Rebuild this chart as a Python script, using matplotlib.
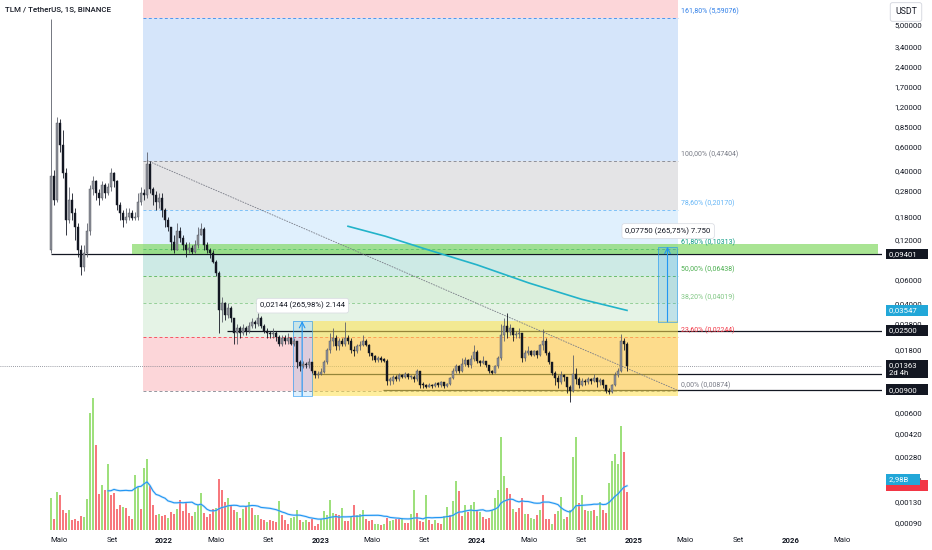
import matplotlib
matplotlib.use("Agg")
import matplotlib.pyplot as plt
import matplotlib.dates as mdates
import matplotlib.ticker as mticker
import matplotlib.transforms as mtransforms
from matplotlib.patches import Rectangle
import numpy as np
import pandas as pd

plt.rcParams['font.family'] = ['Roboto', 'DejaVu Sans']

# weekly TLM/USDT candles, first week starts 2021-04-12
week_start = "2021-04-12"
first_open = 0.10
closes = [
    0.36, 0.24, 0.90, 0.62, 0.38, 0.17, 0.24, 0.19, 0.15, 0.10,
    0.075, 0.095, 0.14, 0.29, 0.33, 0.27, 0.25, 0.31, 0.27, 0.30,
    0.38, 0.33, 0.22, 0.19, 0.17, 0.18, 0.19, 0.175, 0.18, 0.23,
    0.27, 0.26, 0.45, 0.29, 0.26, 0.23, 0.25, 0.20, 0.17, 0.15,
    0.115, 0.10, 0.14, 0.125, 0.11, 0.10, 0.105, 0.098, 0.11, 0.13,
    0.145, 0.11, 0.10, 0.095, 0.082, 0.068, 0.036, 0.040, 0.033, 0.037,
    0.031, 0.024, 0.026, 0.024, 0.026, 0.025, 0.027, 0.029, 0.028, 0.031,
    0.027, 0.025, 0.024, 0.0235, 0.024, 0.0225, 0.020, 0.022, 0.021, 0.022,
    0.020, 0.021, 0.0145, 0.0135, 0.014, 0.0138, 0.0145, 0.0125, 0.0115, 0.0118,
    0.0123, 0.0145, 0.018, 0.021, 0.022, 0.019, 0.021, 0.020, 0.022, 0.021,
    0.018, 0.0175, 0.019, 0.0195, 0.021, 0.0195, 0.017, 0.016, 0.015, 0.0155,
    0.015, 0.0148, 0.0105, 0.0105, 0.0112, 0.0108, 0.0115, 0.0113, 0.0118, 0.0112,
    0.0113, 0.0108, 0.0125, 0.0098, 0.0097, 0.0095, 0.0098, 0.0096, 0.010, 0.0098,
    0.0102, 0.0096, 0.0099, 0.011, 0.0125, 0.0135, 0.0125, 0.014, 0.015, 0.0138,
    0.0152, 0.0172, 0.0148, 0.0142, 0.0147, 0.0137, 0.0125, 0.012, 0.0135, 0.0155,
    0.023, 0.027, 0.0245, 0.026, 0.023, 0.0235, 0.024, 0.0155, 0.017, 0.0175,
    0.0165, 0.0175, 0.0165, 0.0195, 0.021, 0.017, 0.0145, 0.012, 0.011, 0.0102,
    0.0115, 0.0112, 0.0095, 0.0088, 0.0118, 0.0108, 0.0098, 0.0105, 0.0102, 0.0108,
    0.0105, 0.011, 0.0103, 0.0106, 0.0098, 0.0088, 0.0086, 0.0098, 0.0115, 0.0125,
    0.021, 0.020, 0.01363,
]
highs = [
    5.5, 0.40, 1.00, 0.98, 0.80, 0.42, 0.30, 0.27, 0.21, 0.16,
    0.11, 0.11, 0.16, 0.31, 0.36, 0.34, 0.29, 0.33, 0.32, 0.32,
    0.42, 0.39, 0.34, 0.23, 0.20, 0.21, 0.21, 0.20, 0.195, 0.27,
    0.30, 0.29, 0.55, 0.47, 0.30, 0.28, 0.27, 0.27, 0.21, 0.18,
    0.15, 0.13, 0.16, 0.15, 0.13, 0.115, 0.115, 0.11, 0.12, 0.15,
    0.16, 0.15, 0.115, 0.105, 0.10, 0.085, 0.07, 0.045, 0.041, 0.040,
    0.038, 0.031, 0.028, 0.027, 0.028, 0.027, 0.029, 0.031, 0.030, 0.034,
    0.032, 0.028, 0.026, 0.025, 0.026, 0.025, 0.023, 0.023, 0.023, 0.024,
    0.0225, 0.022, 0.021, 0.015, 0.0148, 0.0145, 0.0155, 0.0145, 0.0125, 0.0125,
    0.013, 0.015, 0.0185, 0.024, 0.026, 0.023, 0.022, 0.022, 0.029, 0.023,
    0.022, 0.019, 0.020, 0.021, 0.023, 0.0215, 0.020, 0.017, 0.0165, 0.016,
    0.016, 0.0155, 0.0152, 0.0112, 0.0115, 0.0115, 0.012, 0.0118, 0.0122, 0.012,
    0.0116, 0.0115, 0.0128, 0.0125, 0.0102, 0.0099, 0.0101, 0.0099, 0.0103, 0.0102,
    0.0105, 0.0102, 0.0101, 0.0113, 0.013, 0.014, 0.0137, 0.0155, 0.0157, 0.0152,
    0.0165, 0.0195, 0.018, 0.015, 0.016, 0.0148, 0.0138, 0.0127, 0.0138, 0.016,
    0.028, 0.031, 0.034, 0.028, 0.026, 0.025, 0.026, 0.024, 0.018, 0.019,
    0.018, 0.018, 0.018, 0.020, 0.0255, 0.022, 0.0175, 0.0145, 0.0125, 0.0115,
    0.0125, 0.0118, 0.0113, 0.0098, 0.0165, 0.013, 0.0112, 0.011, 0.0108, 0.0112,
    0.011, 0.0118, 0.0112, 0.011, 0.0108, 0.0098, 0.0092, 0.010, 0.0122, 0.013,
    0.0235, 0.022, 0.0205,
]
lows = [
    0.095, 0.22, 0.23, 0.55, 0.35, 0.13, 0.16, 0.17, 0.12, 0.09,
    0.065, 0.07, 0.09, 0.13, 0.26, 0.24, 0.22, 0.24, 0.25, 0.26,
    0.28, 0.30, 0.20, 0.17, 0.15, 0.16, 0.17, 0.17, 0.17, 0.17,
    0.22, 0.24, 0.25, 0.27, 0.22, 0.20, 0.21, 0.18, 0.15, 0.14,
    0.10, 0.095, 0.10, 0.115, 0.10, 0.09, 0.095, 0.094, 0.095, 0.105,
    0.13, 0.10, 0.095, 0.088, 0.08, 0.064, 0.024, 0.029, 0.030, 0.031,
    0.029, 0.020, 0.020, 0.022, 0.023, 0.023, 0.024, 0.026, 0.026, 0.027,
    0.026, 0.024, 0.022, 0.022, 0.022, 0.021, 0.019, 0.019, 0.020, 0.020,
    0.0195, 0.019, 0.013, 0.0125, 0.013, 0.013, 0.013, 0.012, 0.011, 0.011,
    0.0115, 0.012, 0.014, 0.017, 0.019, 0.018, 0.018, 0.019, 0.019, 0.020,
    0.017, 0.016, 0.017, 0.018, 0.019, 0.019, 0.016, 0.015, 0.0145, 0.0145,
    0.0145, 0.0145, 0.0098, 0.0098, 0.010, 0.0104, 0.0105, 0.011, 0.011, 0.0108,
    0.0109, 0.0103, 0.0105, 0.0092, 0.0093, 0.0092, 0.0094, 0.0093, 0.0095, 0.0095,
    0.0095, 0.0092, 0.0094, 0.0097, 0.0108, 0.012, 0.012, 0.0122, 0.0135, 0.0134,
    0.013, 0.0148, 0.0143, 0.0135, 0.014, 0.0133, 0.012, 0.0118, 0.012, 0.013,
    0.015, 0.021, 0.022, 0.023, 0.021, 0.022, 0.022, 0.0145, 0.0148, 0.0165,
    0.016, 0.016, 0.0155, 0.016, 0.018, 0.0163, 0.014, 0.0115, 0.0098, 0.0092,
    0.010, 0.0105, 0.0085, 0.0073, 0.0086, 0.010, 0.0092, 0.0096, 0.0098, 0.0099,
    0.010, 0.0102, 0.0095, 0.0098, 0.0092, 0.0085, 0.0083, 0.0085, 0.0096, 0.0112,
    0.0122, 0.018, 0.0125,
]
# weekly volume, billions of TLM
volumes = [
    2.18, 0.75, 2.58, 2.38, 1.36, 1.16, 1.36, 0.68, 0.75, 0.61,
    0.95, 0.88, 2.11, 7.96, 8.98, 5.78, 2.45, 3.06, 2.72, 4.49,
    2.38, 2.52, 1.43, 1.70, 1.56, 1.50, 0.95, 0.75, 3.74, 2.92,
    1.43, 4.22, 4.83, 2.99, 1.70, 1.02, 1.09, 0.95, 1.02, 0.82,
    1.22, 1.09, 1.43, 2.04, 1.29, 1.90, 1.16, 0.95, 1.22, 1.70,
    2.52, 1.16, 0.88, 1.09, 1.43, 1.50, 3.47, 2.72, 1.90, 2.18,
    1.70, 1.36, 1.22, 0.82, 1.43, 1.63, 1.90, 1.50, 1.02, 1.02,
    0.75, 0.68, 0.54, 0.68, 0.61, 0.54, 1.97, 1.02, 0.68, 0.41,
    0.82, 0.88, 1.36, 0.68, 0.54, 0.68, 0.54, 0.75, 0.27, 0.41,
    0.75, 1.29, 1.02, 2.04, 1.16, 1.09, 1.02, 1.50, 0.61, 0.61,
    0.88, 1.70, 1.02, 1.09, 1.36, 0.75, 0.61, 0.68, 0.41, 0.41,
    0.34, 0.41, 0.82, 0.61, 0.68, 0.75, 0.75, 0.82, 0.48, 0.48,
    1.09, 2.72, 1.16, 0.61, 0.54, 2.38, 0.68, 0.41, 0.68, 0.48,
    0.41, 0.95, 1.56, 1.02, 1.97, 3.33, 2.65, 0.95, 1.70, 1.22,
    1.70, 1.90, 1.36, 1.22, 0.88, 0.75, 0.82, 1.36, 2.18, 2.72,
    6.32, 3.67, 2.86, 2.45, 1.43, 1.22, 1.50, 2.18, 1.09, 1.09,
    0.82, 0.75, 1.02, 1.36, 2.38, 0.75, 0.75, 0.41, 1.09, 1.29,
    2.24, 0.75, 0.88, 1.36, 4.96, 6.32, 1.84, 2.38, 1.36, 1.29,
    1.29, 1.36, 0.95, 1.90, 1.36, 1.16, 3.20, 4.69, 5.17, 4.49,
    7.07, 5.30, 2.58,
]
volume_dirs = (
    "g r g r r r g r r r  r g g g g r r g r g  r r r r g r r r g g  "
    "r g g r r r g r r g  r r g r r r r r g g  g r r r r g r r r g  "
    "r r g r g r g r g g  r r g r r r g r r r  g g g r g g r r r r  "
    "g g g g g r r g r r  g r g g g r r r g g  r g r g g r r g r r  "
    "g g r r r g r r g r  r g g r g g r r g r  g g r g r r r g g g  "
    "g g r r g r r r g r  g g r g r r r g r g  g g r g g g r g r g  "
    "g r g g r r g g g g  g r r"
).split()

price_ticks = [5.0, 3.4, 2.4, 1.7, 1.2, 0.85, 0.6, 0.4, 0.28, 0.18, 0.12,
               0.06, 0.04, 0.028, 0.018, 0.006, 0.0042, 0.0028, 0.0019, 0.0013, 0.0009]
date_ticks = ["2021-05-01", "2021-09-01", "2022-01-01", "2022-05-01", "2022-09-01",
              "2023-01-01", "2023-05-01", "2023-09-01", "2024-01-01", "2024-05-01",
              "2024-09-01", "2025-01-01", "2025-05-01", "2025-09-01", "2026-01-01",
              "2026-05-01"]
date_labels = ["Maio", "Set", "2022", "Maio", "Set", "2023", "Maio", "Set", "2024",
               "Maio", "Set", "2025", "Maio", "Set", "2026", "Maio"]

# log fibonacci retracement levels
fib_ratios = [0, 0.236, 0.382, 0.5, 0.618, 0.786, 1.0, 1.618]
fib_prices = [0.00874, 0.02244, 0.04019, 0.06438, 0.10313, 0.20170, 0.47404, 5.59076]
fib_colors = ['#787b86', '#f23645', '#81c784', '#4caf50', '#089981', '#64b5f6', '#787b86', '#2f7fe8']

# long moving average (cyan)
ma_dates = ["2023-03-06", "2023-06-01", "2023-09-01", "2024-01-01", "2024-05-01", "2024-09-01", "2024-12-16"]
ma_values = [0.152, 0.128, 0.103, 0.078, 0.057, 0.043, 0.03547]

hline_prices = [0.09401, 0.025, 0.0119, 0.009]
hline_starts = ["2021-04-12", "2022-05-27", "2022-12-12", "2023-05-26"]
last_price = 0.01363
last_volume = 2.58


def dn(s):
    return mdates.date2num(pd.Timestamp(s))


fig = plt.figure(figsize=(9.32, 5.5), dpi=100)
ax = fig.add_axes([0, 20 / 550, 882 / 932, 530 / 550])
ax2 = ax.twinx()
ax.set_yscale('log')
ax.set_ylim(0.000794, 7.62)
ax.set_xlim(dn("2020-12-14"), dn("2026-08-03"))
xmax = ax.get_xlim()[1]

# fib zones
fx0, fx1 = dn("2021-11-12"), dn("2025-04-13")
bounds = fib_prices + [ax.get_ylim()[1]]
fill_colors = fib_colors[1:] + ['#f23645']
for lo, hi, col in zip(bounds[:-1], bounds[1:], fill_colors):
    ax.fill_between([fx0, fx1], lo, hi, color=col, alpha=0.2, lw=0, zorder=0.5)
for r, p, col in zip(fib_ratios, fib_prices, fib_colors):
    ax.hlines(p, fx0, fx1, colors=col, linestyles=(0, (3, 2.5)), lw=0.7, alpha=0.8, zorder=0.6)
    lbl = f"{r * 100:.2f}% ({p:.5f})".replace('.', ',')
    ax.text(dn("2025-04-22"), p * 1.04, lbl, color=col, fontsize=5.0, va='bottom', ha='left')

# green zone + horizontal levels
ax.fill_between([dn("2021-10-19"), dn("2026-07-24")], 0.09401, 0.112,
                color='#7cd65a', alpha=0.65, lw=0, zorder=1.2)
for p, s in zip(hline_prices, hline_starts):
    ax.hlines(p, dn(s), xmax, colors='#131722', lw=0.9, zorder=1.1)
ax.axhline(last_price, color='#787b86', lw=0.6, ls=(0, (1, 1.5)), zorder=1.3)

# yellow range box
ax.fill_between([dn("2022-12-11"), dn("2025-04-15")], 0.00806, 0.0295,
                color='#ffe14d', alpha=0.55, lw=0, zorder=1.5)

# trend line and MA
ax.plot([dn("2021-11-22"), dn("2025-04-13")], [0.474, 0.0089], color='#787b86',
        lw=0.6, ls=(0, (2, 1.2)), zorder=2)
ax.plot([dn(d) for d in ma_dates], ma_values, color='#22b3c9', lw=1.2, zorder=2.5)

# candles
weeks = pd.date_range(week_start, periods=len(closes), freq="7D")
x = mdates.date2num(weeks)
c = np.array(closes)
o = np.r_[first_open, c[:-1]]
h = np.maximum(np.array(highs), np.maximum(o, c))
l = np.minimum(np.array(lows), np.minimum(o, c))
up = c >= o
bot = np.minimum(o, c)
top = np.maximum(np.maximum(o, c), bot * 1.025)
ax.vlines(x, l, h, colors=['#5d606b' if u else '#131722' for u in up], lw=0.6, zorder=3)
ax.bar(x, top - bot, bottom=bot, width=4.6,
       color=['#8f929b' if u else '#131722' for u in up],
       edgecolor=['#4a4d56' if u else '#131722' for u in up], lw=0.3, zorder=3.1)


def measure(x0, x1, lo, hi, text, tx, ty, alpha):
    ax.fill_between([dn(x0), dn(x1)], lo, hi, color='#2196f3', alpha=alpha, lw=0, zorder=1.6)
    ax.plot([dn(x0), dn(x1), dn(x1), dn(x0), dn(x0)], [lo, lo, hi, hi, lo],
            color='#2196f3', lw=0.7, alpha=0.6, zorder=1.7)
    xm = (dn(x0) + dn(x1)) / 2
    ax.annotate('', xy=(xm, hi), xytext=(xm, lo),
                arrowprops=dict(arrowstyle='->', color='#2196f3', lw=0.8, shrinkA=0, shrinkB=0),
                zorder=1.8)
    ax.text(dn(tx), ty, text, ha='center', va='center', fontsize=5.6, color='#131722',
            bbox=dict(boxstyle='round,pad=0.45,rounding_size=0.3', fc='white', ec='#d6d9e0', lw=0.5),
            zorder=6)


measure("2022-10-28", "2022-12-11", 0.00806, 0.0295, "0,02144 (265,98%) 2.144", "2022-11-20", 0.0385, 0.14)
measure("2025-02-27", "2025-04-11", 0.02916, 0.10666, "0,07750 (265,75%) 7.750", "2025-03-22", 0.140, 0.18)

# axes / ticks (twinx moved ax ticks to the left, put them back)
for s in ax.spines.values():
    s.set_visible(False)
ax.yaxis.tick_right()
ax.set_yticks(price_ticks)
ax.set_yticklabels([f"{t:.5f}".replace('.', ',') for t in price_ticks])
ax.yaxis.set_minor_locator(mticker.NullLocator())
ax.tick_params(axis='y', which='both', length=0, pad=9, labelsize=5.6, labelcolor='#131722',
               left=False, labelleft=False, right=False, labelright=True)
ax.set_xticks([dn(d) for d in date_ticks])
ax.set_xticklabels(date_labels)
ax.tick_params(axis='x', length=0, pad=5, labelsize=5.6, labelcolor='#131722')
for t in ax.get_xticklabels():
    if t.get_text().isdigit():
        t.set_fontweight('bold')

# price tags
tr = mtransforms.blended_transform_factory(ax.transAxes, ax.transData)
for p, txt, fc in [(0.09401, "0,09401", '#131722'), (0.03547, "0,03547", '#22a7d8'),
                   (0.025, "0,02500", '#131722'), (0.009, "0,00900", '#131722')]:
    ax.text(1.0075, p, txt + "     ", transform=tr, ha='left', va='center', fontsize=5.6, color='white',
            bbox=dict(boxstyle='square,pad=0.3', fc=fc, ec='none'), clip_on=False, zorder=10)
ax.text(1.0075, 0.01445, "0,01363     \n2d 4h", transform=tr, ha='left', va='top', fontsize=5.6,
        color='white', linespacing=1.3,
        bbox=dict(boxstyle='square,pad=0.3', fc='#131722', ec='none'), clip_on=False, zorder=10)

# volume pane
ax2.set_ylim(0, 36.0)
ax2.set_yticks([])
for s in ax2.spines.values():
    s.set_visible(False)
ax2.bar(x, volumes, width=4.6, color=['#9ee07c' if d == 'g' else '#f7787d' for d in volume_dirs],
        lw=0, zorder=2)
vol_ma = pd.Series(volumes).rolling(20).mean()
ax2.plot(x, vol_ma, color='#90caf9', lw=1.8, alpha=0.4, zorder=3)
ax2.plot(x, vol_ma, color='#2196f3', lw=0.8, zorder=3.1)
tr2 = mtransforms.blended_transform_factory(ax2.transAxes, ax2.transData)
# last-volume tag, mostly hidden under the MA tag
ax2.add_patch(Rectangle((1.0045, last_volume + 0.07), 0.0475, 0.75, transform=tr2,
                        fc='#f23645', ec='none', clip_on=False, zorder=10))
ax2.text(1.0075, 3.45, "2,98B     ", transform=tr2, ha='left', va='center', fontsize=5.6, color='white',
         bbox=dict(boxstyle='square,pad=0.3', fc='#22a7d8', ec='none'), clip_on=False, zorder=11)

fig.text(5 / 932, 1 - 10 / 550, "TLM / TetherUS, 1S, BINANCE", fontsize=5.7, color='#131722',
         va='center', ha='left', fontweight='medium')
fig.text(906 / 932, 1 - 12 / 550, "USDT", ha='center', va='center', fontsize=6.3, color='#131722',
         bbox=dict(boxstyle='round,pad=0.55,rounding_size=0.25', fc='white', ec='#d1d4dc', lw=0.6))

fig.savefig("out.png", dpi=100)
